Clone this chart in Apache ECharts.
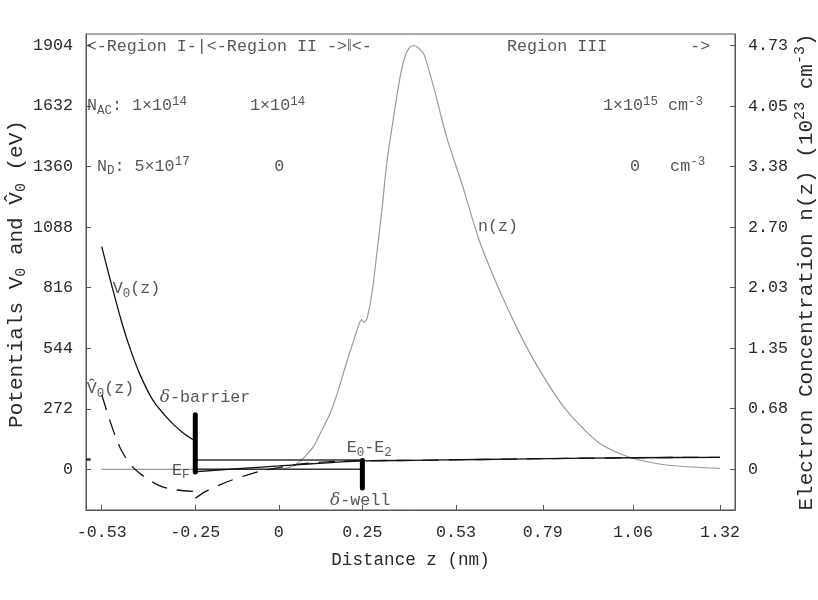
<!DOCTYPE html>
<html><head><meta charset="utf-8">
<script src="https://cdn.jsdelivr.net/npm/echarts@6/dist/echarts.min.js"></script>
<style>html,body{margin:0;padding:0;background:#fff}#c{width:818px;height:600px}</style>
</head><body><div id="c"></div>
<script>
const FONT = 'Liberation Mono';
const TXT = '#2a2a2a';
const AX = '#555';

// tick values
const xTicks = [-0.53, -0.25, 0, 0.25, 0.53, 0.79, 1.06, 1.32];
const leftTicks = [0, 272, 544, 816, 1088, 1360, 1632, 1904];
const rightTicks = [0, 0.68, 1.35, 2.03, 2.70, 3.38, 4.05, 4.73];

// V0(z), region I
const zV0a = [-0.53, -0.499, -0.472, -0.447, -0.417, -0.377, -0.328, -0.29, -0.25];
const V0a  = [1000, 820, 671, 551, 431, 311, 221, 168, 127];
// V0(z), regions II and III
const zV0b = [-0.25, -0.1, 0, 0.1, 0.25, 0.4, 0.6, 0.8, 1.06, 1.32];
const V0b  = [-11, 5, 15, 25, 38, 40, 44, 48, 52, 54];

// V^0(z) dashed, region I
const zVhA = [-0.53, -0.51, -0.49, -0.47, -0.44, -0.41, -0.38, -0.35, -0.31, -0.25];
const VhA  = [335, 240, 152, 82, 15, -25, -55, -78, -92, -100];
// V^0(z) dashed, regions II and III
const zVhB = [-0.25, -0.22, -0.18, -0.14, -0.10, -0.06, 0.0, 0.05, 0.10, 0.17, 0.25, 0.4, 0.6, 0.8, 1.06, 1.32];
const VhB  = [-130, -100, -72, -48, -28, -10, 8, 21, 29, 36, 39, 40, 44, 48, 52, 54];

// n(z) electron concentration (10^23 cm^-3)
const zN = [-0.53, -0.25, 0.0, 0.03, 0.058, 0.08, 0.103, 0.124, 0.153, 0.175, 0.205, 0.225, 0.24, 0.248, 0.256, 0.265, 0.28, 0.293, 0.31, 0.323, 0.34, 0.353, 0.365, 0.378, 0.39, 0.403, 0.415, 0.433, 0.447, 0.463, 0.502, 0.55, 0.60, 0.66, 0.72, 0.78, 0.86, 0.96, 1.05, 1.16, 1.32];
const nZ = [0, 0, 0, 0.02, 0.074, 0.15, 0.25, 0.40, 0.62, 0.85, 1.22, 1.45, 1.62, 1.67, 1.64, 1.70, 2.0, 2.4, 2.95, 3.42, 3.85, 4.16, 4.42, 4.61, 4.70, 4.73, 4.71, 4.64, 4.48, 4.27, 3.71, 3.16, 2.55, 2.0, 1.52, 1.11, 0.66, 0.29, 0.134, 0.048, 0.011];

// levels and delta functions
const zEF = [-0.25, 0.25];  const EF = [0, 0];
const zE02 = [-0.25, 0.25]; const E02 = [42, 42];
const zBar = [-0.25, -0.25]; const Bar = [245, -12];
const zWell = [0.25, 0.25];  const Well = [40, -84];
const zMark = [-0.577, -0.563]; const Mark = [44, 44];

// text annotations (anchor = left edge, vertical middle, in data coordinates of the left axis)
const annText = [
  '<-Region I-|<-Region II ->‖<-',
  'Region III',
  '->',
  'N{sub|AC}: 1×10{sup|14}',
  '1×10{sup|14}',
  '1×10{sup|15} cm{sup|-3}',
  'N{sub|D}: 5×10{sup|17}',
  '0',
  '0   cm{sup|-3}',
  'V{sub|0}(z)',
  'V\u0302{sub|0}(z)',
  '{it|δ}-barrier',
  'E{sub|F}',
  'E{sub|0}-E{sub|2}',
  '{it|δ}-well',
  'n(z)'
];
const annZ = [-0.575, 0.683, 1.231, -0.574, -0.086, 0.970, -0.544, -0.014, 1.051, -0.497, -0.575, -0.356, -0.320, 0.203, 0.153, 0.596];
const annV = [1897, 1897, 1897, 1633, 1633, 1633, 1362, 1362, 1362, 810, 362, 322, -5, 96, -142, 1090];

const pairs = (xs, ys) => xs.map((x, i) => [x, ys[i]]);
const FS = 16.7;
const rich = {
  sub: {fontFamily: FONT, fontSize: 12.5, lineHeight: 12, verticalAlign: 'bottom', color: TXT},
  sup: {fontFamily: FONT, fontSize: 12.5, lineHeight: 12, verticalAlign: 'top', color: TXT},
  it: {fontFamily: 'DejaVu Serif', fontStyle: 'italic', fontSize: 17, lineHeight: 22, color: TXT}
};
const richBig = {
  sub: {fontFamily: FONT, fontSize: 15, lineHeight: 14, verticalAlign: 'bottom', color: TXT},
  sup: {fontFamily: FONT, fontSize: 15, lineHeight: 14, verticalAlign: 'top', color: TXT}
};

const chart = echarts.init(document.getElementById('c'));
const yL0 = -182.8, yL1 = 1955.6, ratio = 4.73 / 1904;

const lineS = (name, xs, ys, opts) => Object.assign({
  name, type: 'line', data: pairs(xs, ys), showSymbol: false, symbol: 'none',
  silent: true, lineStyle: {color: '#111', width: 1.3}
}, opts || {});

chart.setOption({
  animation: false,
  backgroundColor: '#fff',
  grid: {left: 86, right: 83, top: 34, bottom: 90, show: true, borderColor: AX, borderWidth: 1, containLabel: false},
  xAxis: {
    type: 'value', min: -0.577, max: 1.365,
    axisLine: {show: true, onZero: false, lineStyle: {color: AX}},
    axisTick: {show: true, inside: true, length: 5, customValues: xTicks, lineStyle: {color: AX}},
    axisLabel: {customValues: xTicks, formatter: v => v === 0 ? '0' : v.toFixed(2),
      fontFamily: FONT, fontSize: FS, color: TXT, margin: 14},
    splitLine: {show: false}
  },
  yAxis: [{
    type: 'value', position: 'left', min: yL0, max: yL1,
    axisLine: {show: true, onZero: false, lineStyle: {color: AX}},
    axisTick: {show: true, inside: true, length: 5, customValues: leftTicks, lineStyle: {color: AX}},
    axisLabel: {customValues: leftTicks, formatter: v => String(Math.round(v)),
      fontFamily: FONT, fontSize: FS, color: TXT, margin: 13},
    splitLine: {show: false}
  }, {
    type: 'value', position: 'right', min: yL0 * ratio, max: yL1 * ratio,
    axisLine: {show: true, onZero: false, lineStyle: {color: AX}},
    axisTick: {show: true, inside: true, length: 5, customValues: rightTicks, lineStyle: {color: AX}},
    axisLabel: {customValues: rightTicks, formatter: v => v === 0 ? '0' : v.toFixed(2),
      fontFamily: FONT, fontSize: FS, color: TXT, margin: 13},
    splitLine: {show: false}
  }],
  series: [
    lineS('n(z)', zN, nZ, {yAxisIndex: 1, smooth: 0.25, lineStyle: {color: '#9a9a9a', width: 1.2}, z: 1}),
    lineS('EF', zEF, EF, {lineStyle: {color: '#333', width: 1.4}, z: 2}),
    lineS('E0-E2', zE02, E02, {lineStyle: {color: '#333', width: 1.6}, z: 2}),
    lineS('V0 I', zV0a, V0a, {smooth: 0.3, z: 3}),
    lineS('V0 II-III', zV0b, V0b, {smooth: 0.2, z: 3}),
    lineS('Vhat0 I', zVhA, VhA, {smooth: 0.3, lineStyle: {color: '#111', width: 1.3, type: [16, 10]}, z: 3}),
    lineS('Vhat0 II-III', zVhB, VhB, {smooth: 0.3, lineStyle: {color: '#111', width: 1.3, type: [16, 10]}, z: 3}),
    lineS('barrier', zBar, Bar, {lineStyle: {color: '#000', width: 5, cap: 'round'}, z: 4}),
    lineS('well', zWell, Well, {lineStyle: {color: '#000', width: 5, cap: 'round'}, z: 4}),
    lineS('mark', zMark, Mark, {lineStyle: {color: '#333', width: 2.5}, z: 4}),
    {
      name: 'annotations', type: 'scatter', symbolSize: 0, silent: true, z: 5,
      data: annText.map((t, i) => ({value: [annZ[i], annV[i]], label: {formatter: () => t}})),
      label: {show: true, position: 'right', distance: 0, fontFamily: FONT, fontSize: FS,
        lineHeight: 22, color: TXT, rich: rich}
    }
  ],
  graphic: [
    {type: 'text', x: 410.5, y: 560, silent: true,
      style: {text: 'Distance z (nm)', fontFamily: FONT, fontSize: 17.6, fill: TXT, align: 'center', verticalAlign: 'middle'}},
    {type: 'text', x: 16, y: 274, rotation: Math.PI / 2, silent: true,
      style: {text: 'Potentials V{sub|0} and V\u0302{sub|0} (eV)', fontFamily: FONT, fontSize: 21, lineHeight: 26,
        fill: TXT, align: 'center', verticalAlign: 'middle', rich: richBig}},
    {type: 'text', x: 806, y: 272, rotation: Math.PI / 2, silent: true,
      style: {text: 'Electron Concentration n(z) (10{sup|23} cm{sup|-3})', fontFamily: FONT, fontSize: 21, lineHeight: 26,
        fill: TXT, align: 'center', verticalAlign: 'middle', rich: richBig}}
  ]
});
</script>
</body></html>
